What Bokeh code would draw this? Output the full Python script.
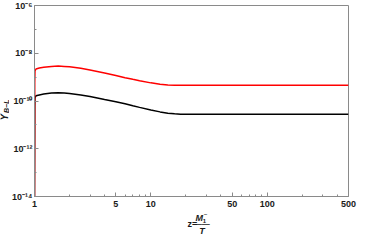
import numpy as np
from bokeh.plotting import figure
from bokeh.models import FixedTicker, CustomJSTickFormatter
from bokeh.layouts import row, column
from bokeh.core.properties import value
from bokeh.embed import file_html
from bokeh.resources import INLINE

# data
z_vals = [1.0, 1.005, 1.01, 1.03, 1.1, 1.2, 1.4, 1.6, 1.8, 2.0, 2.5, 3.0, 4.0, 5.0,
          6.0, 7.0, 8.0, 10.0, 12.0, 14.0, 16.0, 18.0, 500.0]
y_red = [1e-14, 6.3e-10, 1.8e-9, 2.2e-9, 2.4e-9, 2.6e-9, 2.8e-9, 2.9e-9, 2.8e-9, 2.7e-9,
         2.35e-9, 2.0e-9, 1.5e-9, 1.17e-9, 9.5e-10, 8.1e-10, 7.1e-10, 5.75e-10, 5.0e-10,
         4.7e-10, 4.6e-10, 4.6e-10, 4.6e-10]
y_black = [1e-14, 6.3e-11, 1.4e-10, 1.65e-10, 1.8e-10, 1.95e-10, 2.15e-10, 2.2e-10, 2.15e-10,
           2.05e-10, 1.8e-10, 1.55e-10, 1.15e-10, 9.3e-11, 7.6e-11, 6.3e-11, 5.4e-11, 4.2e-11,
           3.5e-11, 3.1e-11, 2.9e-11, 2.8e-11, 2.8e-11]
x_major = [1, 5, 10, 50, 100, 500]
x_minor = [2, 3, 4, 6, 7, 8, 9, 20, 30, 40, 60, 70, 80, 90, 200, 300, 400]
y_major = [1e-14, 1e-12, 1e-10, 1e-8, 1e-6]
y_minor = [1e-13, 1e-11, 1e-9, 1e-7]

FONT = "Liberation Sans"
GRAY = "#8a8a8a"
TXT = "#1a1a1a"

YW = 9          # width of y-label strip
MW = 358 - YW   # main figure width
MH = 211        # main figure height
XH = 235 - MH   # x-label strip height

p = figure(width=MW, height=MH, x_axis_type="log", y_axis_type="log",
           x_range=(1, 500), y_range=(1e-14, 1e-6),
           output_backend="svg", toolbar_location=None,
           min_border_left=22, min_border_right=10, min_border_top=5, min_border_bottom=15)
p.grid.visible = False
p.outline_line_color = GRAY
p.outline_line_width = 1
p.background_fill_color = "white"
p.border_fill_color = "white"

p.line(z_vals, y_black, line_color="black", line_width=1.5)
p.line(z_vals, y_red, line_color="#ff0000", line_width=1.5)

for ax in (p.xaxis[0], p.yaxis[0]):
    ax.axis_line_color = GRAY
    ax.major_tick_line_color = GRAY
    ax.minor_tick_line_color = GRAY
    ax.major_tick_in = 4
    ax.major_tick_out = 0
    ax.minor_tick_in = 2
    ax.minor_tick_out = 0
    ax.major_label_text_font = FONT
    ax.major_label_text_font_style = "bold"
    ax.major_label_text_font_size = "9px"
    ax.major_label_text_color = TXT

p.xaxis[0].ticker = FixedTicker(ticks=x_major, minor_ticks=x_minor)
p.yaxis[0].ticker = FixedTicker(ticks=y_major, minor_ticks=y_minor)
p.xaxis[0].formatter = CustomJSTickFormatter(code="return String(Math.round(tick));")
p.yaxis[0].formatter = CustomJSTickFormatter(code="""
const m = {'-':'\u207b','0':'\u2070','1':'\u00b9','2':'\u00b2','3':'\u00b3','4':'\u2074',
           '5':'\u2075','6':'\u2076','7':'\u2077','8':'\u2078','9':'\u2079'};
const e = String(Math.round(Math.log10(tick)));
let s = '';
for (const c of e) s += m[c];
return '10' + s;
""")
p.xaxis[0].major_label_standoff = 4
p.yaxis[0].major_label_standoff = 2


def strip(w, h):
    f = figure(width=w, height=h, x_range=(0, w), y_range=(0, h),
               output_backend="svg", toolbar_location=None,
               x_axis_location=None, y_axis_location=None,
               min_border=0, min_border_left=0, min_border_right=0,
               min_border_top=0, min_border_bottom=0)
    f.grid.visible = False
    f.outline_line_color = None
    f.border_fill_color = "white"
    f.background_fill_color = "white"
    return f


def txt(f, x, y, text, size, style="bold", angle=0.0, baseline="middle", align="left"):
    f.text(x=[x], y=[y], text=[text], angle=angle, text_font=value(FONT),
           text_font_style=style, text_font_size=size, text_color=TXT,
           text_baseline=baseline, text_align=align)


# y axis label strip: Y_{B-L}
yl = strip(YW, 235)
txt(yl, 4.0, 115, "Y", "10px", "bold italic", angle=np.pi / 2)
txt(yl, 6.0, 122.5, "B\u2212L", "7px", "bold italic", angle=np.pi / 2)

# x axis label strip: z = M1~ / T
xl = strip(MW, XH)
txt(xl, 170, 12, "z=", "9px")
txt(xl, 179, 18, "M", "9px", "bold italic")
txt(xl, 187, 15, "1", "6px")
txt(xl, 188, 22, "~", "6px")
txt(xl, 177, 12, "\u2015\u2015", "8px")
txt(xl, 183, 5, "T", "9px", "bold italic")

layout = row(yl, column(p, xl, spacing=0), spacing=0)

open("out.html", "w").write(file_html(layout, INLINE))
